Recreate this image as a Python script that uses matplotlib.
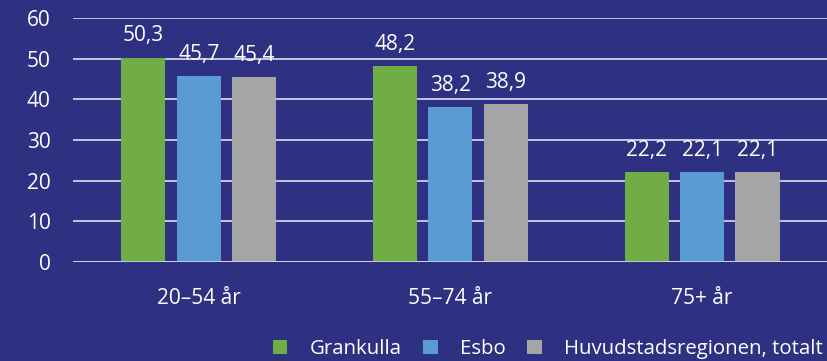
import matplotlib
matplotlib.use("Agg")
import matplotlib.pyplot as plt
import numpy as np
from matplotlib.patches import Patch

categories = ["20–54 år", "55–74 år", "75+ år"]
series_names = ["Grankulla", "Esbo", "Huvudstadsregionen, totalt"]
grankulla = [50.3, 48.2, 22.2]
esbo = [45.7, 38.2, 22.1]
huvudstad = [45.4, 38.9, 22.1]
yticks = [0, 10, 20, 30, 40, 50, 60]

colors = ["#70AD47", "#5B9BD5", "#A5A5A5"]
bg = "#2E3182"
fg = "#FFFFFF"
grid_c = "#CFCFEA"

plt.rcParams['font.family'] = ['Open Sans', 'DejaVu Sans']
FS = 15

fig = plt.figure(figsize=(8.28, 3.61), dpi=100, facecolor=bg)
ax = fig.add_axes([0.088, 0.274, 0.912, 0.676], facecolor=bg)

x = np.arange(len(categories))
w = 0.175
step = 0.22
for i, (vals, c) in enumerate(zip([grankulla, esbo, huvudstad], colors)):
    pos = x + (i - 1) * step
    bars = ax.bar(pos, vals, width=w, color=c, zorder=3)
    for b, v in zip(bars, vals):
        ax.annotate(f"{v:.1f}".replace(".", ","), (b.get_x() + b.get_width() / 2, v),
                    xytext=(0, 8), textcoords="offset points", ha="center", va="bottom",
                    color=fg, fontsize=FS)

ax.set_xlim(-0.5, 2.5)
ax.set_ylim(0, 60)
ax.set_yticks(yticks)
ax.set_yticklabels([str(t) for t in yticks])
ax.grid(axis="y", color=grid_c, linewidth=1.3, zorder=0)
ax.axhline(0, color="#DADAF0", linewidth=1.8, zorder=4)
ax.set_axisbelow(True)
for s in ax.spines.values():
    s.set_visible(False)
ax.tick_params(axis="y", length=0, colors=fg, labelsize=FS, pad=16)
ax.set_xticks(x)
ax.set_xticklabels(categories)
ax.tick_params(axis="x", length=0, colors=fg, labelsize=FS, pad=19)

handles = [Patch(facecolor=c, edgecolor="none") for c in colors]
leg = fig.legend(handles, series_names, loc="lower right", bbox_to_anchor=(1.016, -0.046), ncol=3,
                 frameon=False, fontsize=FS - 0.3, handlelength=0.7, handleheight=0.7,
                 handletextpad=1.1, columnspacing=1.05, labelcolor=fg)

fig.savefig("out.png", dpi=100, facecolor=bg)
